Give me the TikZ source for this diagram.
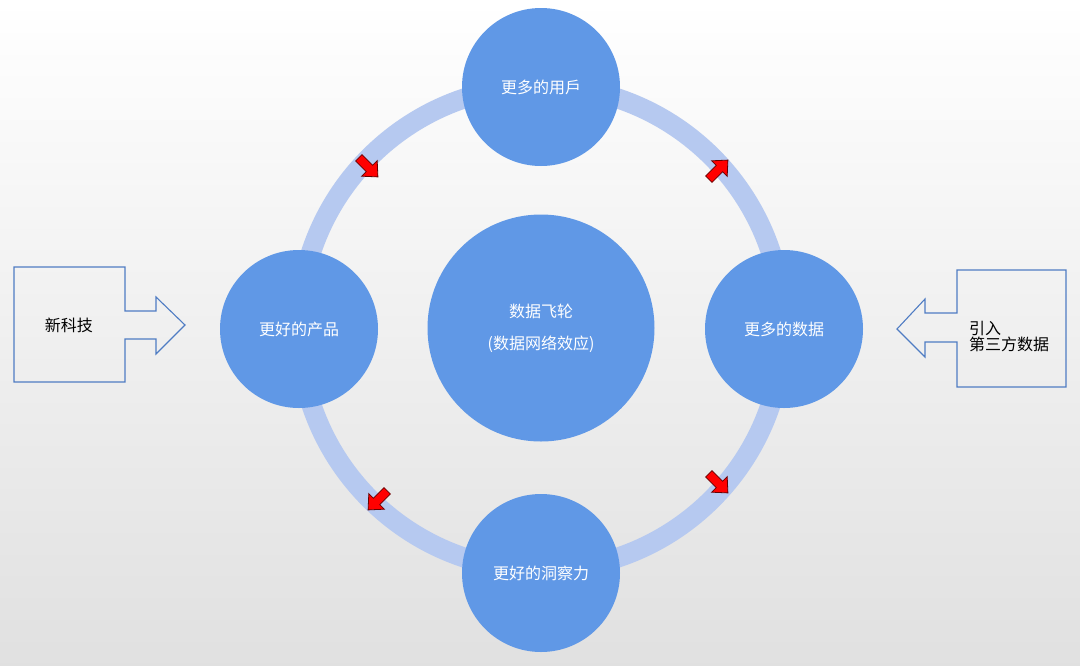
\documentclass[tikz,border=0pt]{standalone}
\usepackage{fontspec}
\setmainfont{Noto Sans CJK SC}
\begin{document}
\begin{tikzpicture}[x=1pt,y=-1pt,
  bub/.style={circle,fill=cblue,text=white,font=\fontsize{16}{20}\selectfont,inner sep=0pt},
  lbl/.style={font=\fontsize{16}{20}\selectfont,text=black,align=left},
  callout/.style={draw=oblue,line width=1.1pt,fill=none},
  redarr/.style={fill=red,draw=red!40!black,line width=0.8pt}]
\definecolor{cblue}{HTML}{6098E6}
\definecolor{rblue}{HTML}{B6C9F0}
\definecolor{oblue}{HTML}{4F7CC3}
\shade[top color=white,bottom color=black!12] (0,0) rectangle (1080,665);
\useasboundingbox (0,0) rectangle (1080,665);
\coordinate (c) at (541,328);
\draw[rblue,line width=20pt] (c) circle[radius=242];
\node[bub,minimum size=227pt,align=center] (hub) at (c) {数据飞轮\\[12pt](数据网络效应)};
\node[bub,minimum size=158pt] (u) at (541,87) {更多的用戶};
\node[bub,minimum size=158pt] (d) at (784,329) {更多的数据};
\node[bub,minimum size=158pt] (i) at (541,573) {更好的洞察力};
\node[bub,minimum size=158pt] (p) at (299,329) {更好的产品};
% callouts
\draw[callout] (14,267) -- (125,267) -- (125,311) -- (156,311) -- (156,297) -- (185,325) -- (156,354) -- (156,339) -- (125,339) -- (125,382) -- (14,382) -- cycle;
\node[lbl] (nt) at (69,325) {新科技};
\draw[callout] (1066,270) -- (957,270) -- (957,313) -- (925,313) -- (925,299) -- (897,329) -- (925,357) -- (925,342) -- (957,342) -- (957,387) -- (1066,387) -- cycle;
\node[lbl,anchor=west,inner sep=0pt] (tp) at (969,337) {引入\\[-4pt]第三方数据};
% red arrows
\foreach \px/\py/\ang in {368/167/-45, 718/170/45, 718/483/-45, 378/500/-135}{
  \begin{scope}[shift={(\px,\py)},rotate=\ang]
  \draw[redarr] (-13,-4.5) -- (2,-4.5) -- (2,-11) -- (14,0) -- (2,11) -- (2,4.5) -- (-13,4.5) -- cycle;
  \end{scope}}
\end{tikzpicture}
\end{document}
